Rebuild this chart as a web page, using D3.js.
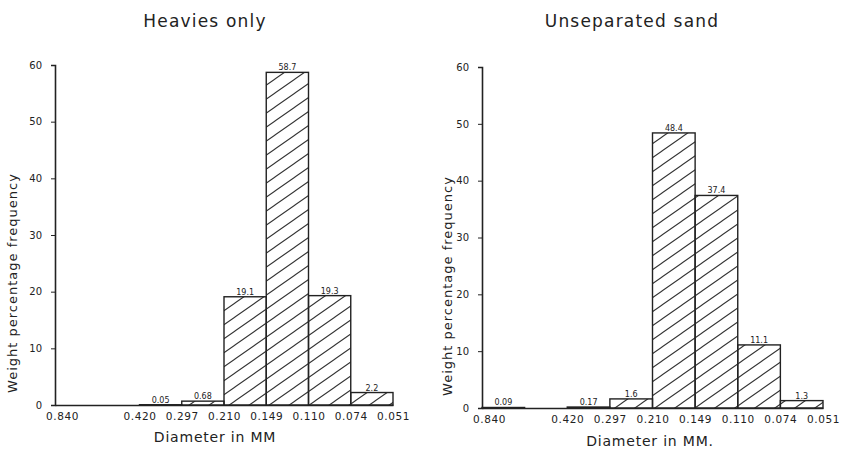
<!DOCTYPE html>
<html>
<head>
<meta charset="utf-8">
<script src="https://cdn.jsdelivr.net/npm/d3@7"></script>
<style>
    body { margin: 0; background: #fff; }
    svg text { font-family: "DejaVu Sans", sans-serif; fill: #222; }
</style>
</head>
<body>
<svg id="chart" width="844" height="457"></svg>
<script>
// sieve boundaries (mm); 0.590 is drawn but not labelled
const sieveBounds = ['0.840', '0.590', '0.420', '0.297', '0.210', '0.149', '0.110', '0.074', '0.051'];
const boundLabels = ['0.840', '', '0.420', '0.297', '0.210', '0.149', '0.110', '0.074', '0.051'];
const yTicks = [0, 10, 20, 30, 40, 50, 60];

const heaviesValues = [0, 0, 0.05, 0.68, 19.1, 58.7, 19.3, 2.2];
const heaviesLabels = ['', '', '0.05', '0.68', '19.1', '58.7', '19.3', '2.2'];

const sandValues = [0.09, 0, 0.17, 1.6, 48.4, 37.4, 11.1, 1.3];
const sandLabels = ['0.09', '', '0.17', '1.6', '48.4', '37.4', '11.1', '1.3'];

const ink = '#222';
const svg = d3.select('#chart');

// "/" hatching, about 35 degrees
const defs = svg.append('defs');
defs.append('pattern')
    .attr('id', 'hatch')
    .attr('patternUnits', 'userSpaceOnUse')
    .attr('width', 20)
    .attr('height', 14)
    .append('path')
    .attr('d', 'M0,14L20,0M-5,3.5L5,-3.5M15,17.5L25,10.5')
    .attr('stroke', '#333')
    .attr('stroke-width', 1.1)
    .attr('fill', 'none');

function drawPanel(opts) {
    const { left, top, width, height, values, labels, title, titleX, xTitle, xTitleX, xTitleY } = opts;
    const g = svg.append('g').attr('transform', `translate(${left},${top})`);

    const x = d3.scalePoint().domain(sieveBounds).range([0, width]);
    const y = d3.scaleLinear().domain([0, 60]).range([height, 0]);

    const bins = values.map((value, i) => ({
        value,
        label: labels[i],
        x0: x(sieveBounds[i]),
        x1: x(sieveBounds[i + 1])
    }));

    g.selectAll('.bar')
        .data(bins.filter((d) => d.value > 0))
        .enter()
        .append('rect')
        .attr('class', 'bar')
        .attr('x', (d) => d.x0)
        .attr('y', (d) => y(d.value))
        .attr('width', (d) => d.x1 - d.x0)
        .attr('height', (d) => y(0) - y(d.value))
        .attr('fill', 'url(#hatch)')
        .attr('stroke', ink)
        .attr('stroke-width', 1.4);

    g.selectAll('.bar-label')
        .data(bins.filter((d) => d.label))
        .enter()
        .append('text')
        .attr('class', 'bar-label')
        .attr('x', (d) => (d.x0 + d.x1) / 2)
        .attr('y', (d) => y(d.value) - 2)
        .attr('text-anchor', 'middle')
        .attr('font-size', 8)
        .text((d) => d.label);

    // y axis
    g.append('g')
        .call(d3.axisLeft(y).tickValues(yTicks).tickSize(4).tickPadding(9))
        .call((axis) => axis.select('.domain').attr('stroke', ink).attr('stroke-width', 1.6))
        .call((axis) => axis.selectAll('line').attr('stroke', ink))
        .call((axis) => axis.selectAll('text').attr('font-size', 10).attr('fill', ink));

    // x axis
    g.append('g')
        .attr('transform', `translate(0,${height})`)
        .call(d3.axisBottom(x).tickSize(0).tickPadding(8).tickFormat((d, i) => boundLabels[i]))
        .call((axis) => axis.select('.domain').attr('stroke', ink).attr('stroke-width', 1.6))
        .call((axis) => axis.selectAll('text').attr('font-size', 10.5).attr('letter-spacing', 0.6).attr('fill', ink))
        .call((axis) => axis.select('.tick text').attr('dx', 7));

    g.append('text')
        .attr('transform', 'rotate(-90)')
        .attr('x', -(height - 122))
        .attr('y', opts.yTitleX)
        .attr('text-anchor', 'middle')
        .attr('font-size', 13)
        .attr('letter-spacing', 1)
        .text('Weight percentage frequency');

    svg.append('text')
        .attr('x', titleX)
        .attr('y', 27)
        .attr('text-anchor', 'middle')
        .attr('font-size', 17)
        .attr('letter-spacing', 1.2)
        .text(title);

    svg.append('text')
        .attr('x', xTitleX)
        .attr('y', xTitleY)
        .attr('text-anchor', 'middle')
        .attr('font-size', 14)
        .attr('letter-spacing', 0.8)
        .text(xTitle);
}

drawPanel({
    left: 55, top: 65, width: 338, height: 340,
    values: heaviesValues, labels: heaviesLabels,
    title: 'Heavies only', titleX: 205,
    xTitle: 'Diameter in MM', xTitleX: 215, xTitleY: 442,
    yTitleX: -38
});

drawPanel({
    left: 482, top: 67, width: 341, height: 341,
    values: sandValues, labels: sandLabels,
    title: 'Unseparated sand', titleX: 632,
    xTitle: 'Diameter in MM.', xTitleX: 650, xTitleY: 446,
    yTitleX: -30
});
</script>
</body>
</html>
